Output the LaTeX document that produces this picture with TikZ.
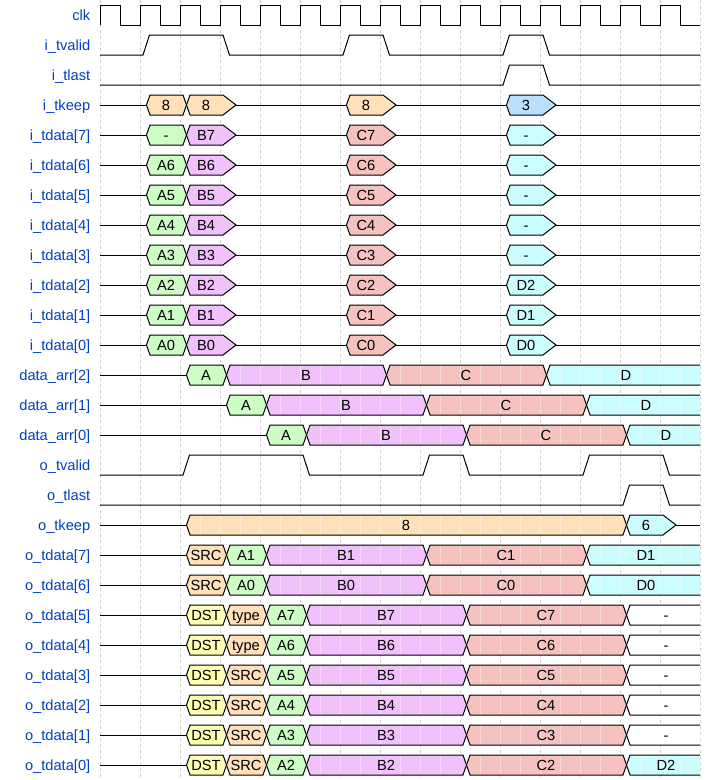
\documentclass[tikz,border=0pt]{standalone}
\usepackage{fontspec}
\setmainfont{Liberation Sans}
\definecolor{lblue}{HTML}{0041C4}
\definecolor{corng}{HTML}{FFE0B9}
\definecolor{cgrn}{HTML}{CDFDC5}
\definecolor{cpur}{HTML}{F0C1FB}
\definecolor{cred}{HTML}{F5C2C0}
\definecolor{ccyn}{HTML}{CCFDFE}
\definecolor{cblu}{HTML}{B9E0FF}
\definecolor{cyel}{HTML}{FFFFB4}
\definecolor{gridc}{HTML}{CFCFCF}
\newcounter{segc}
\tikzset{
  wire/.style={line width=1pt, draw=black},
  busbox/.style={line width=1pt, draw=black, line join=miter},
  seam/.style={draw=white, line width=0.6pt, opacity=0.4},
  gridline/.style={draw=gridc, line width=0.7pt, dash pattern=on 3pt off 3pt},
  lab/.style={text=lblue, font=\fontsize{14.67pt}{17pt}\selectfont, inner sep=0pt, anchor=base east},
  dtext/.style={text=black, font=\fontsize{14.67pt}{17pt}\selectfont, inner sep=0pt, anchor=base},
}
\newcommand\segsetup[3]{%
  \pgfmathsetmacro\yc{15+30*#1}%
  \pgfmathsetmacro\yt{\yc-10}%
  \pgfmathsetmacro\yb{\yc+10}%
  \pgfmathsetmacro\xa{100+40*#2}%
  \pgfmathsetmacro\xb{100+40*#3}%
  \pgfmathsetmacro\xm{(\xa+\xb)/2+6}%
  \pgfmathtruncatemacro\nseam{2*(#3-#2)-1}%
  \stepcounter{segc}%
  \edef\segname{s\arabic{segc}}}
\newcommand\seams{%
  \ifnum\nseam>1
    \foreach \s in {1,...,\nseam}{\draw[seam] ({\xa+20*\s},{\yt+0.6}) -- ({\xa+20*\s},{\yb-0.6});}%
  \fi}
% data segment followed by data
\newcommand\dsegD[5]{%
  \segsetup{#1}{#2}{#3}%
  \fill[#4] ({\xa+10},{\yt}) -- ({\xb+3},{\yt}) -- ({\xb+6.5},{\yc}) -- ({\xb+3},{\yb}) -- ({\xa+10},{\yb}) -- ({\xa+6.5},{\yc}) -- cycle;
  \seams
  \draw[busbox] ({\xa+10},{\yt}) -- ({\xb+3},{\yt}) -- ({\xb+6.5},{\yc}) -- ({\xb+3},{\yb}) -- ({\xa+10},{\yb}) -- ({\xa+6.5},{\yc}) -- cycle;
  \node[dtext] (\segname) at ({\xm},{\yc+5}) {#5};}
% data segment followed by high impedance
\newcommand\dsegZ[5]{%
  \segsetup{#1}{#2}{#3}%
  \fill[#4] ({\xa+10},{\yt}) -- ({\xb+3},{\yt}) -- ({\xb+16},{\yc}) -- ({\xb+3},{\yb}) -- ({\xa+10},{\yb}) -- ({\xa+6.5},{\yc}) -- cycle;
  \seams
  \draw[busbox] ({\xa+10},{\yt}) -- ({\xb+3},{\yt}) -- ({\xb+16},{\yc}) -- ({\xb+3},{\yb}) -- ({\xa+10},{\yb}) -- ({\xa+6.5},{\yc}) -- cycle;
  \node[dtext] (\segname) at ({\xm},{\yc+5}) {#5};}
% data segment running to the end
\newcommand\dsegE[4]{%
  \segsetup{#1}{#2}{15}%
  \fill[#3] (700,{\yt}) -- ({\xa+10},{\yt}) -- ({\xa+6.5},{\yc}) -- ({\xa+10},{\yb}) -- (700,{\yb}) -- cycle;
  \seams
  \draw[busbox] (700,{\yt}) -- ({\xa+10},{\yt}) -- ({\xa+6.5},{\yc}) -- ({\xa+10},{\yb}) -- (700,{\yb});
  \node[dtext] (\segname) at ({\xm},{\yc+5}) {#4};}
\begin{document}
\begin{tikzpicture}[x=1pt,y=-1pt]
\fill[white] (0,0) rectangle (720,780);
\useasboundingbox (0,0) rectangle (720,780);
% grid
\foreach \k in {0,...,15} \draw[gridline] ({100+40*\k},0) -- ({100+40*\k},780);
% labels
\foreach \r/\t in {0/clk,1/{i\_tvalid},2/{i\_tlast},3/{i\_tkeep},
  4/{i\_tdata[7]},5/{i\_tdata[6]},6/{i\_tdata[5]},7/{i\_tdata[4]},8/{i\_tdata[3]},9/{i\_tdata[2]},10/{i\_tdata[1]},11/{i\_tdata[0]},
  12/{data\_arr[2]},13/{data\_arr[1]},14/{data\_arr[0]},15/{o\_tvalid},16/{o\_tlast},17/{o\_tkeep},
  18/{o\_tdata[7]},19/{o\_tdata[6]},20/{o\_tdata[5]},21/{o\_tdata[4]},22/{o\_tdata[3]},23/{o\_tdata[2]},24/{o\_tdata[1]},25/{o\_tdata[0]}}
  \node[lab] (lab\r) at (90.5,{20+30*\r}) {\t};
% clock
\draw[wire] (100,25) \foreach \k in {0,...,14}{ -- ({100+40*\k},5) -- ({120+40*\k},5) -- ({120+40*\k},25) -- ({140+40*\k},25)};
% single-bit waves
\draw[wire] (100,55) -- (143,55) -- (149.5,35) -- (223,35) -- (229.5,55) -- (343,55) -- (349.5,35) -- (383,35) -- (389.5,55) -- (503,55) -- (509.5,35) -- (543,35) -- (549.5,55) -- (700,55);
\draw[wire] (100,85) -- (503,85) -- (509.5,65) -- (543,65) -- (549.5,85) -- (700,85);
\draw[wire] (100,475) -- (183,475) -- (189.5,455) -- (303,455) -- (309.5,475) -- (423,475) -- (429.5,455) -- (463,455) -- (469.5,475) -- (583,475) -- (589.5,455) -- (663,455) -- (669.5,475) -- (700,475);
\draw[wire] (100,505) -- (623,505) -- (629.5,485) -- (663,485) -- (669.5,505) -- (700,505);
% high impedance lines under the buses
\foreach \r in {3,...,14,17,18,...,25} \draw[wire] (100,{15+30*\r}) -- (700,{15+30*\r});
% i_tkeep
\dsegD{3}{1}{2}{corng}{8}
\dsegZ{3}{2}{3}{corng}{8}
\dsegZ{3}{6}{7}{corng}{8}
\dsegZ{3}{10}{11}{cblu}{3}
% i_tdata
\dsegD{4}{1}{2}{cgrn}{-}  \dsegZ{4}{2}{3}{cpur}{B7}  \dsegZ{4}{6}{7}{cred}{C7}  \dsegZ{4}{10}{11}{ccyn}{-}
\dsegD{5}{1}{2}{cgrn}{A6} \dsegZ{5}{2}{3}{cpur}{B6}  \dsegZ{5}{6}{7}{cred}{C6}  \dsegZ{5}{10}{11}{ccyn}{-}
\dsegD{6}{1}{2}{cgrn}{A5} \dsegZ{6}{2}{3}{cpur}{B5}  \dsegZ{6}{6}{7}{cred}{C5}  \dsegZ{6}{10}{11}{ccyn}{-}
\dsegD{7}{1}{2}{cgrn}{A4} \dsegZ{7}{2}{3}{cpur}{B4}  \dsegZ{7}{6}{7}{cred}{C4}  \dsegZ{7}{10}{11}{ccyn}{-}
\dsegD{8}{1}{2}{cgrn}{A3} \dsegZ{8}{2}{3}{cpur}{B3}  \dsegZ{8}{6}{7}{cred}{C3}  \dsegZ{8}{10}{11}{ccyn}{-}
\dsegD{9}{1}{2}{cgrn}{A2} \dsegZ{9}{2}{3}{cpur}{B2}  \dsegZ{9}{6}{7}{cred}{C2}  \dsegZ{9}{10}{11}{ccyn}{D2}
\dsegD{10}{1}{2}{cgrn}{A1} \dsegZ{10}{2}{3}{cpur}{B1} \dsegZ{10}{6}{7}{cred}{C1} \dsegZ{10}{10}{11}{ccyn}{D1}
\dsegD{11}{1}{2}{cgrn}{A0} \dsegZ{11}{2}{3}{cpur}{B0} \dsegZ{11}{6}{7}{cred}{C0} \dsegZ{11}{10}{11}{ccyn}{D0}
% data_arr
\dsegD{12}{2}{3}{cgrn}{A} \dsegD{12}{3}{7}{cpur}{B} \dsegD{12}{7}{11}{cred}{C} \dsegE{12}{11}{ccyn}{D}
\dsegD{13}{3}{4}{cgrn}{A} \dsegD{13}{4}{8}{cpur}{B} \dsegD{13}{8}{12}{cred}{C} \dsegE{13}{12}{ccyn}{D}
\dsegD{14}{4}{5}{cgrn}{A} \dsegD{14}{5}{9}{cpur}{B} \dsegD{14}{9}{13}{cred}{C} \dsegE{14}{13}{ccyn}{D}
% o_tkeep
\dsegD{17}{2}{13}{corng}{8}
\dsegZ{17}{13}{14}{ccyn}{6}
% o_tdata
\dsegD{18}{2}{3}{corng}{SRC} \dsegD{18}{3}{4}{cgrn}{A1} \dsegD{18}{4}{8}{cpur}{B1} \dsegD{18}{8}{12}{cred}{C1} \dsegE{18}{12}{ccyn}{D1}
\dsegD{19}{2}{3}{corng}{SRC} \dsegD{19}{3}{4}{cgrn}{A0} \dsegD{19}{4}{8}{cpur}{B0} \dsegD{19}{8}{12}{cred}{C0} \dsegE{19}{12}{ccyn}{D0}
\dsegD{20}{2}{3}{cyel}{DST} \dsegD{20}{3}{4}{corng}{type} \dsegD{20}{4}{5}{cgrn}{A7} \dsegD{20}{5}{9}{cpur}{B7} \dsegD{20}{9}{13}{cred}{C7} \dsegE{20}{13}{white}{-}
\dsegD{21}{2}{3}{cyel}{DST} \dsegD{21}{3}{4}{corng}{type} \dsegD{21}{4}{5}{cgrn}{A6} \dsegD{21}{5}{9}{cpur}{B6} \dsegD{21}{9}{13}{cred}{C6} \dsegE{21}{13}{white}{-}
\dsegD{22}{2}{3}{cyel}{DST} \dsegD{22}{3}{4}{corng}{SRC} \dsegD{22}{4}{5}{cgrn}{A5} \dsegD{22}{5}{9}{cpur}{B5} \dsegD{22}{9}{13}{cred}{C5} \dsegE{22}{13}{white}{-}
\dsegD{23}{2}{3}{cyel}{DST} \dsegD{23}{3}{4}{corng}{SRC} \dsegD{23}{4}{5}{cgrn}{A4} \dsegD{23}{5}{9}{cpur}{B4} \dsegD{23}{9}{13}{cred}{C4} \dsegE{23}{13}{white}{-}
\dsegD{24}{2}{3}{cyel}{DST} \dsegD{24}{3}{4}{corng}{SRC} \dsegD{24}{4}{5}{cgrn}{A3} \dsegD{24}{5}{9}{cpur}{B3} \dsegD{24}{9}{13}{cred}{C3} \dsegE{24}{13}{white}{-}
\dsegD{25}{2}{3}{cyel}{DST} \dsegD{25}{3}{4}{corng}{SRC} \dsegD{25}{4}{5}{cgrn}{A2} \dsegD{25}{5}{9}{cpur}{B2} \dsegD{25}{9}{13}{cred}{C2} \dsegE{25}{13}{ccyn}{D2}
\end{tikzpicture}
\end{document}
